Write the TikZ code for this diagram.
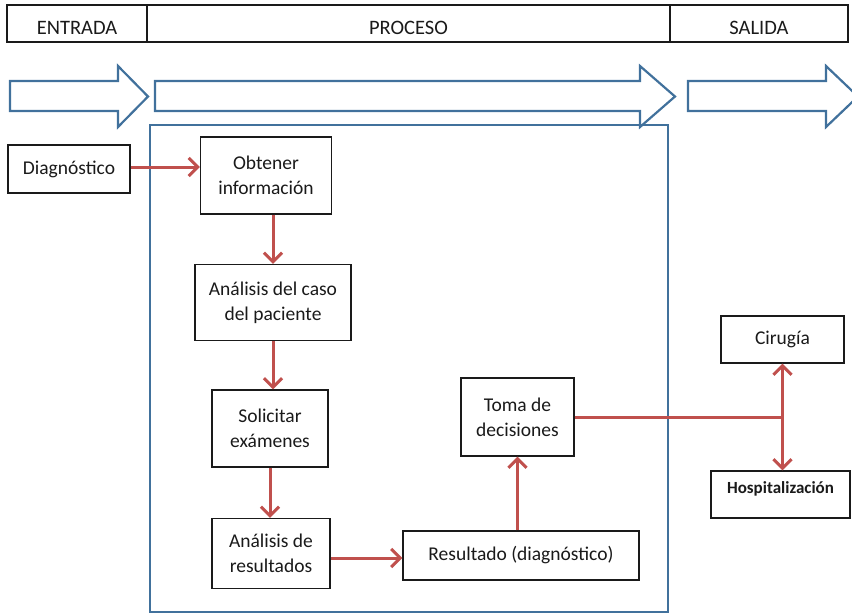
\documentclass[tikz,border=0pt]{standalone}
\usepackage{fontspec}
\setmainfont{Carlito}
\usepackage{tikz}
\usetikzlibrary{arrows.meta,positioning}
\definecolor{azul}{HTML}{41719C}
\definecolor{rojo}{HTML}{C0504D}
\definecolor{tinta}{HTML}{1A1A1A}
\tikzset{
  caja/.style={draw=tinta,line width=1.4pt,fill=white,align=center,text=tinta,font=\fontsize{19.5}{25}\selectfont,inner sep=2pt},
  cab/.style={draw=tinta,line width=1.4pt,text=tinta,font=\fontsize{20.5}{22}\selectfont,minimum height=37pt,inner sep=0pt,text depth=0pt,text height=22pt},
  flecha/.style={-{Straight Barb[length=9pt,width=18pt]},line width=3pt,color=rojo},
  linea/.style={line width=3pt,color=rojo},
  bloque/.style={draw=azul,line width=2.2pt,line join=miter,fill=white},
  marco/.style={draw=azul,line width=2.2pt}}
% flecha de bloque: inicio, comienzo de la punta, punta
\newcommand\bloqueflecha[3]{\draw[bloque] (#1,81) -- (#2,81) -- (#2,66) -- (#3,96.5) -- (#2,127) -- (#2,111) -- (#1,111) -- cycle;}

\begin{document}
\begin{tikzpicture}[x=1pt,y=-1pt]
\useasboundingbox (0,0) rectangle (852,614);
% cabecera
\node[cab,minimum width=140pt] (ent) at (77,23.5) {ENTRADA};
\node[cab,minimum width=523pt] (pro) at (408.5,23.5) {PROCESO};
\node[cab,minimum width=178pt] (sal) at (759,23.5) {SALIDA};
% flechas de bloque
\bloqueflecha{10}{118}{148}
\bloqueflecha{155}{640}{675}
\bloqueflecha{688}{826}{858}
\draw[marco] (150,125) rectangle (668,612);
% nodos
\node[caja,minimum width=122pt,minimum height=48pt] (diag) at (69,169) {Diagnóstico};
\node[caja,minimum width=131pt,minimum height=77pt] (obt) at (266,175.5) {Obtener\\información};
\node[caja,minimum width=156pt,minimum height=76pt] (caso) at (273,302.5) {Análisis del caso\\del paciente};
\node[caja,minimum width=116pt,minimum height=77pt] (sol) at (270,428.5) {Solicitar\\exámenes};
\node[caja,minimum width=118pt,minimum height=70pt] (anres) at (271,553.5) {Análisis de\\resultados};
\node[caja,minimum width=236pt,minimum height=49pt] (resul) at (521,555.5) {Resultado (diagnóstico)};
\node[caja,minimum width=113pt,minimum height=78pt] (toma) at (517.5,417) {Toma de\\decisiones};
\node[caja,minimum width=123pt,minimum height=47pt] (cir) at (782.5,339.5) {Cirugía};
\node[caja,minimum width=139pt,minimum height=47pt,text depth=14pt,font=\bfseries\fontsize{17}{18}\selectfont] (hosp) at (780.5,494.5) {Hospitalización};
% conectores
\draw[flecha] (diag.east |- 0,167) -- (obt.west |- 0,167);
\draw[flecha] (caso.north |- obt.south) -- (caso.north);
\draw[flecha] (caso.south) -- (caso.south |- sol.north);
\draw[flecha] (sol.south) -- (sol.south |- anres.north);
\draw[flecha] (anres.east |- 0,558) -- (resul.west |- 0,558);
\draw[flecha] (resul.north -| toma.south) -- (toma.south);
\coordinate (cruce) at (toma.east -| cir.south);
\draw[linea] (toma.east) -- (cruce);
\draw[flecha] (cruce) -- (cir.south);
\draw[flecha] (cruce) -- (cruce |- hosp.north);
\end{tikzpicture}
\end{document}
